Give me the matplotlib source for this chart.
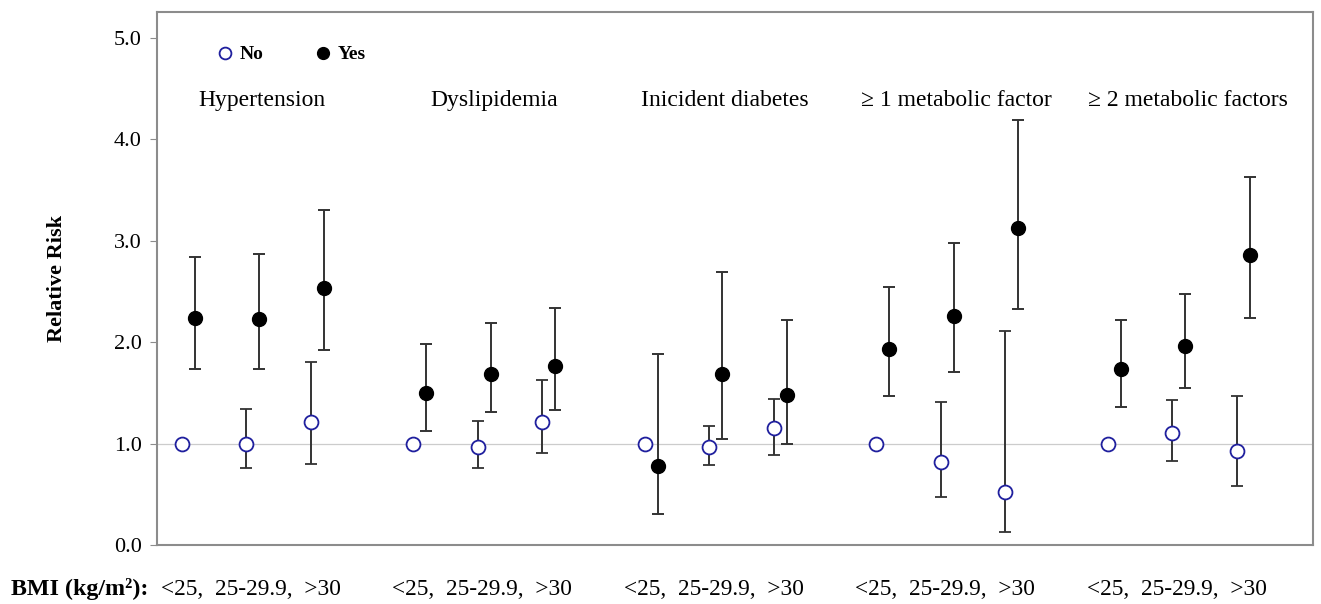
import matplotlib
matplotlib.use("Agg")
import matplotlib.pyplot as plt
from matplotlib.lines import Line2D
from matplotlib.transforms import blended_transform_factory
import numpy as np

plt.rcParams["font.family"] = ["Liberation Serif", "DejaVu Serif"]

# dane
groups = ["Hypertension", "Dyslipidemia", "Inicident diabetes",
          "\u2265 1 metabolic factor", "\u2265 2 metabolic factors"]
bmi_labels = ["<25", "25-29.9", ">30"]

no_rr = [[1.00, 1.00, 1.21], [1.00, 0.97, 1.21], [1.00, 0.97, 1.15], [1.00, 0.82, 0.52], [1.00, 1.10, 0.93]]
no_lo = [[1.00, 0.76, 0.80], [1.00, 0.76, 0.91], [1.00, 0.79, 0.89], [1.00, 0.47, 0.13], [1.00, 0.83, 0.58]]
no_hi = [[1.00, 1.34, 1.80], [1.00, 1.22, 1.63], [1.00, 1.17, 1.44], [1.00, 1.41, 2.11], [1.00, 1.43, 1.47]]

yes_rr = [[2.24, 2.23, 2.53], [1.50, 1.69, 1.77], [0.78, 1.69, 1.48], [1.93, 2.26, 3.13], [1.74, 1.96, 2.86]]
yes_lo = [[1.74, 1.74, 1.92], [1.12, 1.31, 1.33], [0.31, 1.05, 1.00], [1.47, 1.71, 2.33], [1.36, 1.55, 2.24]]
yes_hi = [[2.84, 2.87, 3.30], [1.98, 2.19, 2.34], [1.88, 2.69, 2.22], [2.54, 2.98, 4.19], [2.22, 2.48, 3.63]]

group_step = 3.59
yes_shift = 0.2
navy = "#1f1f9e"
bar_col = "#333333"
frame_col = "#8c8c8c"

no_rr = np.array(no_rr)
no_lo = np.array(no_lo)
no_hi = np.array(no_hi)
yes_rr = np.array(yes_rr)
yes_lo = np.array(yes_lo)
yes_hi = np.array(yes_hi)

fig = plt.figure(figsize=(13.21, 6.04), dpi=100)
ax = fig.add_axes([0.1188, 0.0977, 0.875, 0.883])

ax.axhline(1.0, color="#cccccc", lw=0.9, zorder=1)

for g in range(len(groups)):
    x = g * group_step + np.arange(len(bmi_labels))
    ax.errorbar(x, no_rr[g], yerr=[no_rr[g] - no_lo[g], no_hi[g] - no_rr[g]],
                fmt="o", ms=10, mfc="white", mec=navy, mew=1.3,
                ecolor=bar_col, elinewidth=1.4, capsize=4.5, capthick=1.4, zorder=3)
    ax.errorbar(x + yes_shift, yes_rr[g], yerr=[yes_rr[g] - yes_lo[g], yes_hi[g] - yes_rr[g]],
                fmt="o", ms=10, mfc="black", mec="black",
                ecolor=bar_col, elinewidth=1.4, capsize=4.5, capthick=1.4, zorder=3)
    ax.text(g * group_step + 1.25, 4.38, groups[g], ha="center", va="center", fontsize=17)

# etykiety BMI pod osia
trans = blended_transform_factory(ax.transData, ax.transAxes)
for g in range(len(groups)):
    ax.text(g * group_step + 1.07, -0.083, ",  ".join(bmi_labels), transform=trans,
            ha="center", va="center", fontsize=16.8)
fig.text(11 / 1321, 1 - 589 / 604, "BMI (kg/m\u00b2):", ha="left", va="center",
         fontsize=17.3, fontweight="bold")

handles = [Line2D([], [], ls="none", marker="o", ms=8.5, mfc="white", mec=navy, mew=1.3),
           Line2D([], [], ls="none", marker="o", ms=8.5, mfc="black", mec="black")]
leg = ax.legend(handles, ["No", "Yes"], loc="upper left", bbox_to_anchor=(0.051, 0.936), ncol=2,
                frameon=False, handlelength=0.9, handletextpad=0.3, columnspacing=2.63,
                borderpad=0, borderaxespad=0, prop={"weight": "bold", "size": 14})

ax.set_xlim(-0.383, 17.54)
ax.set_ylim(0, 5.26)
ax.set_yticks(np.arange(0, 5.01, 1.0))
ax.set_yticklabels(["%.1f" % v for v in np.arange(0, 5.01, 1.0)], fontsize=16)
ax.set_xticks([])
ax.tick_params(axis="y", length=5, color=frame_col, pad=6)
for s in ax.spines.values():
    s.set_color(frame_col)
    s.set_linewidth(1.5)
ax.set_ylabel("Relative Risk", fontsize=16, fontweight="bold", labelpad=34)

plt.savefig("out.png", dpi=100)
